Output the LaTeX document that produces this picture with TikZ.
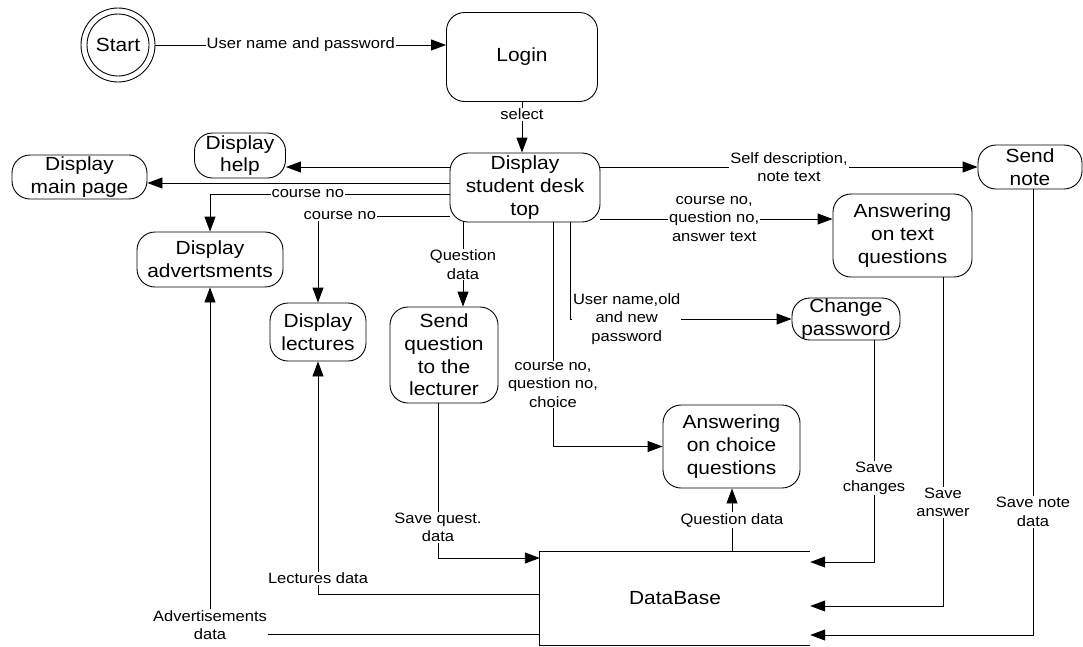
\documentclass[tikz,border=0pt]{standalone}
\usepackage{fontspec}
\setmainfont{Liberation Sans}[FakeStretch=1.1]
\usetikzlibrary{arrows.meta}
\newcommand{\boxfont}{\fontsize{19}{22.7}\selectfont}
\newcommand{\tagfont}{\fontsize{15}{18.5}\selectfont}
\begin{document}
\begin{tikzpicture}[x=1pt,y=-1pt,
  proc/.style={draw, rounded corners=18pt, align=center, inner sep=0pt, font=\boxfont, line width=0.9pt},
  flow/.style={draw, line width=0.9pt, -{Triangle[length=15pt,width=11pt]}},
  tag/.style={fill=white, inner sep=1pt, align=center, font=\tagfont},
]
\fill[white] (0,0) rectangle (1083,646);
\useasboundingbox (0,0) rectangle (1083,646);

% start state (double circle)
\node[circle, draw, line width=0.9pt, minimum size=74pt, inner sep=0pt] (start) at (118,45) {};
\node[circle, draw, line width=0.9pt, minimum size=62pt, inner sep=0pt, font=\boxfont] (startin) at (118,45) {Start};

% processes
\node[proc, minimum width=151pt, minimum height=89pt] (login) at (522,57) {Login};
\node[proc, minimum width=150pt, minimum height=69pt] (desk) at (525,187.5) {Display\\student desk\\top};
\node[proc, minimum width=91pt, minimum height=45pt] (help) at (240,155.5) {Display\\help};
\node[proc, minimum width=135pt, minimum height=44pt] (mainpage) at (79.5,177) {Display\\main page};
\node[proc, minimum width=146pt, minimum height=55pt] (adverts) at (210,259.5) {Display\\advertsments};
\node[proc, minimum width=96pt, minimum height=58pt] (lectures) at (318,332) {Display\\lectures};
\node[proc, minimum width=108pt, minimum height=96pt] (sendq) at (444,355) {Send\\question\\to the\\lecturer};
\node[proc, minimum width=104pt, minimum height=44pt] (sendnote) at (1030,167) {Send\\note};
\node[proc, minimum width=139pt, minimum height=83pt] (textq) at (902.5,235.5) {Answering\\on text\\questions};
\node[proc, minimum width=108pt, minimum height=42pt] (chgpwd) at (846,319) {Change\\password};
\node[proc, minimum width=137pt, minimum height=83pt] (choiceq) at (731.5,446.5) {Answering\\on choice\\questions};

% data store, open on its right side
\node[inner sep=0pt, minimum width=270pt, minimum height=93pt, font=\boxfont] (db) at (675,598.5) {DataBase};
\draw[line width=0.9pt] (db.north east) -- (db.north west) -- (db.south west) -- (db.south east);

% flows
\draw[flow] (start) -- (start -| login.west) node[tag, pos=0.5] {User name and password};
\draw[flow] (login.south) -- (login.south |- desk.north) node[tag, pos=0.25] {select};
\draw[flow] (desk.west |- 0,167) -- (help.east |- 0,167);
\draw[flow] (desk.west |- 0,183) -- (mainpage.east |- 0,183);
\draw[flow] (desk.west |- 0,194) -| (adverts.north) node[tag, pos=0.296] {course no};
\draw[flow] (desk.west |- 0,216) -| (lectures.north) node[tag, pos=0.417] {course no};
\draw[flow] (desk.south -| 463,0) -- (463,0 |- sendq.north) node[tag, pos=0.5] {Question\\data};
\draw[flow] (desk.east |- 0,167) -- (sendnote.west |- 0,167) node[tag, pos=0.5] {Self description,\\note text};
\draw[flow] (desk.east |- 0,219) -- (textq.west |- 0,219) node[tag, pos=0.49] {course no,\\question no,\\answer text};
\draw[flow] (desk.south -| 570,0) |- (chgpwd.west) node[tag, pos=0.628] {User name,old\\and new\\password};
\draw[flow] (desk.south -| 553,0) |- (choiceq.west) node[tag, pos=0.362] {course no,\\question no,\\choice};
\draw[flow] (sendq.south -| 438,0) |- (db.west |- 0,558) node[tag, pos=0.4] {Save quest.\\data};
\draw[flow] (db.west |- 0,594) -| (lectures.south) node[tag, pos=0.534] {Lectures data};
\draw[flow] (db.west |- 0,634) -| (adverts.south) node[tag, pos=0.513] {Advertisements\\data};
\draw[flow] (db.north -| 732,0) -- (732,0 |- choiceq.south) node[tag, pos=0.5] {Question data};
\draw[flow] (chgpwd.south -| 874,0) |- (db.east |- 0,562) node[tag, pos=0.311] {Save\\changes};
\draw[flow] (textq.south -| 943,0) |- (db.east |- 0,606) node[tag, pos=0.342] {Save\\answer};
\draw[flow] (sendnote.south -| 1033,0) |- (db.east |- 0,635) node[tag, pos=0.362] {Save note\\data};
\end{tikzpicture}
\end{document}
